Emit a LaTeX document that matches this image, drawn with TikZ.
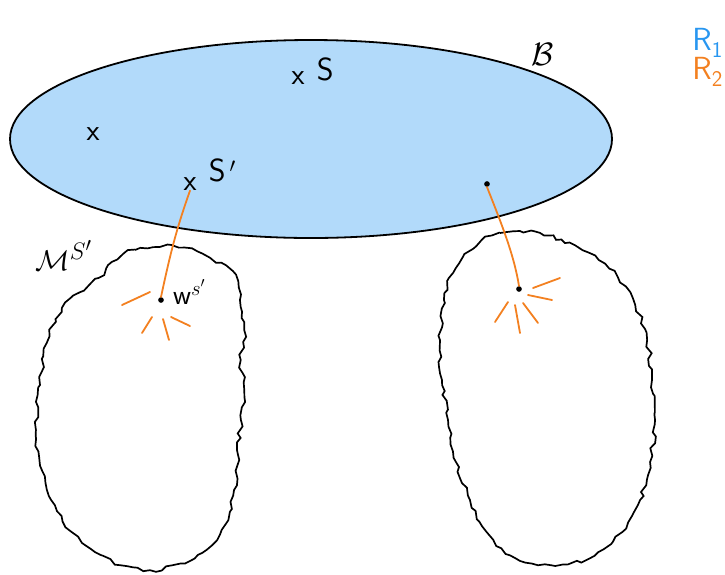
\documentclass[tikz,border=0pt]{standalone}
\usepackage{fontspec}
\usepackage{xcolor}
\definecolor{setblue}{RGB}{178,218,250}
\definecolor{rayorange}{RGB}{243,128,32}
\definecolor{labelblue}{RGB}{40,150,240}
\usepackage{tikz}
\usetikzlibrary{decorations.pathmorphing,positioning}

\begin{document}
\begin{tikzpicture}[x=1pt, y=-1pt,
    region/.style={draw, line width=1.8pt, fill=setblue},
    blob/.style={draw, line width=1.7pt, decorate, decoration={random steps, segment length=6pt, amplitude=2.2pt}},
    ray/.style={draw=rayorange, line width=1.8pt, line cap=round},
    pt/.style={circle, fill, inner sep=2pt},
    cross/.style={inner sep=0pt, font=\sffamily\fontsize{30}{32}\selectfont},
    lbl/.style={inner sep=0pt, font=\sffamily\fontsize{32}{34}\selectfont}]
    \useasboundingbox (0,0) rectangle (725,574);
    \pgfmathsetseed{7}

    % Base set
    \draw [region] (311,139) ellipse [x radius=301pt, y radius=99pt];
    \node [inner sep=0pt] (base) at (543,54) {\scalebox{1.3}{\Huge$\mathcal{B}$}};

    % Points in the base
    \node [cross] (p) at (93,134) {x};
    \node [cross] (s) at (298,78) {x};
    \node [lbl, right=12pt of s, yshift=9pt] (slbl) {S};
    \node [cross] (sp) at (190,184) {x};
    \node [lbl, right=12pt of sp, yshift=14pt] (splbl) {S$\,'$};
    \node [pt] (q) at (487,184) {};

    % Fibres
    \draw [blob] plot [smooth cycle, tension=0.6] coordinates {(112,262) (135,250) (160,247) (185,248) (210,258) (232,272) (240,300) (244,330) (241,360) (244,390) (241,420) (238,455) (234,490) (228,520) (212,545) (185,563) (150,570) (120,565) (95,552) (72,532) (55,505) (42,470) (36,430) (40,385) (48,340) (62,308) (80,292) (98,278)};
    \node [inner sep=0pt] (fib) at (64,255) {\scalebox{1.15}{\Huge$\mathcal{M}^{S'}$}};
    \draw [blob] plot [smooth cycle, tension=0.6] coordinates {(482,240) (500,233) (540,233) (565,243) (595,256) (618,278) (635,305) (647,340) (652,380) (655,420) (650,462) (640,500) (622,532) (598,552) (568,564) (538,565) (510,555) (487,532) (470,500) (456,462) (448,420) (442,380) (440,340) (444,300) (456,268)};

    % Lifts and their rays
    \node [pt] (w) at (161,300) {};
    \node [font=\sffamily\fontsize{28}{30}\selectfont, anchor=west, inner sep=0pt] (wlbl) at (173,292) {w$^{s'}$};
    \node [pt] (v) at (519,289) {};
    \path [ray] (sp.south) .. controls (176,230) and (170,255) .. (w.north);
    \path [ray] (q.south) .. controls (502,225) and (514,255) .. (v.north);
    \path [ray] (122,305) -- (150,292);
    \path [ray] (142,333) -- (152,317);
    \path [ray] (163,319) -- (169,340);
    \path [ray] (171,317) -- (190,326);
    \path [ray] (533,288) -- (560,278);
    \path [ray] (528,295) -- (552,300);
    \path [ray] (523,303) -- (538,323);
    \path [ray] (515,305) -- (520,333);
    \path [ray] (508,302) -- (495,322);

    % Legend
    \node [lbl, text=labelblue, anchor=east] (r1) at (723,43) {R\textsubscript{1}};
    \node [lbl, text=rayorange, anchor=east] (r2) at (723,72) {R\textsubscript{2}};
\end{tikzpicture}
\end{document}
